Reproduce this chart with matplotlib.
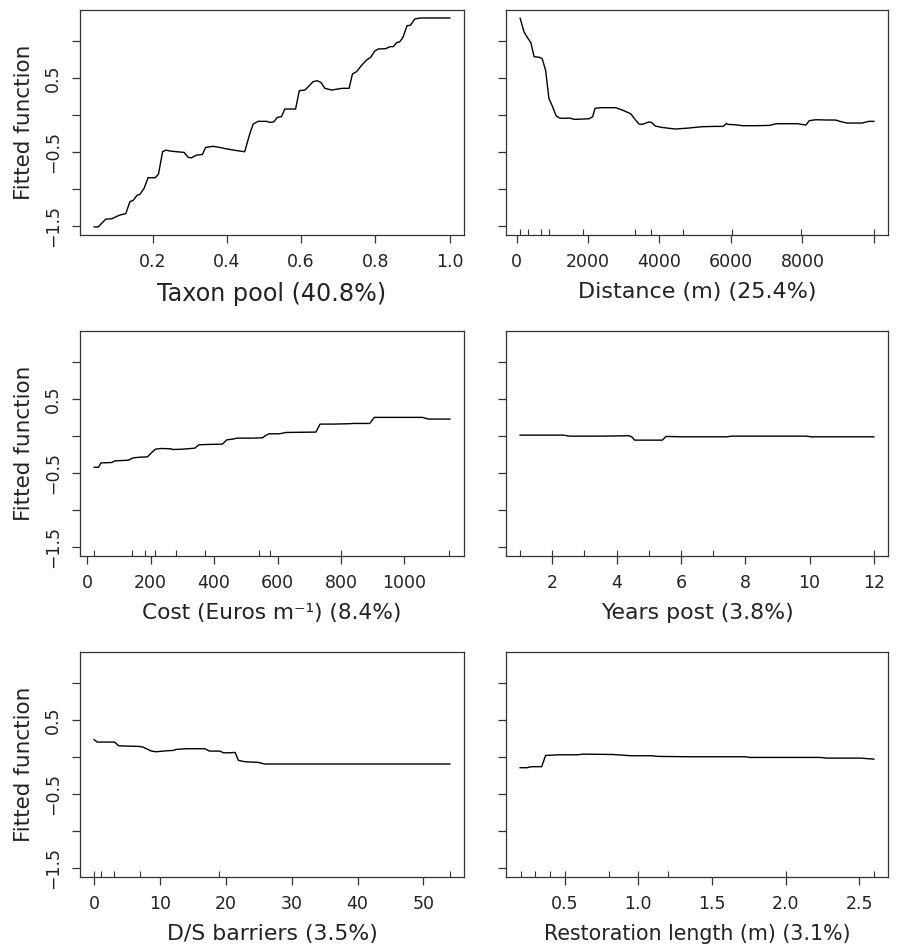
"""Partial dependence panels (gbm style) for six predictors."""

import matplotlib

matplotlib.use("Agg")
import matplotlib.pyplot as plt

# --- data ------------------------------------------------------------------
taxon_x = [0.043, 0.054, 0.074, 0.090, 0.112, 0.128, 0.139, 0.148, 0.159, 0.166,
           0.177, 0.188, 0.207, 0.216, 0.227, 0.236, 0.247, 0.265, 0.285, 0.296,
           0.305, 0.318, 0.334, 0.343, 0.363, 0.381, 0.392, 0.417, 0.435, 0.448,
           0.462, 0.471, 0.484, 0.507, 0.516, 0.526, 0.536, 0.547, 0.556, 0.585,
           0.595, 0.610, 0.621, 0.632, 0.643, 0.653, 0.664, 0.682, 0.704, 0.711,
           0.729, 0.738, 0.749, 0.762, 0.776, 0.787, 0.798, 0.807, 0.828, 0.839,
           0.848, 0.858, 0.865, 0.874, 0.885, 0.894, 0.906, 0.921, 1.000]
taxon_y = [-1.51, -1.51, -1.405, -1.40, -1.35, -1.33, -1.17, -1.15, -1.08, -1.07,
           -0.99, -0.845, -0.845, -0.796, -0.493, -0.471, -0.484, -0.493, -0.502, -0.57,
           -0.575, -0.54, -0.53, -0.435, -0.42, -0.435, -0.448, -0.47, -0.484, -0.493,
           -0.245, -0.118, -0.082, -0.082, -0.096, -0.09, -0.028, -0.019, 0.085, 0.085,
           0.333, 0.342, 0.396, 0.455, 0.468, 0.446, 0.365, 0.342, 0.36, 0.365,
           0.365, 0.559, 0.59, 0.672, 0.748, 0.784, 0.87, 0.897, 0.902, 0.929,
           0.929, 0.988, 0.992, 1.055, 1.213, 1.218, 1.304, 1.317, 1.317]
taxon_rug = []

dist_x = [100, 205, 300, 400, 490, 650, 720, 815, 905, 1000, 1110, 1205, 1340, 1480,
          1620, 1850, 2035, 2130, 2195, 2360, 2775, 2960, 3195, 3330, 3425, 3515, 3700,
          3775, 3885, 4070, 4440, 4810, 5180, 5550, 5785, 5875, 5920, 6105, 6340, 6660,
          7080, 7265, 7865, 8100, 8190, 8375, 8700, 8930, 9115, 9255, 9670, 9855, 10000]
dist_y = [1.313, 1.132, 1.055, 0.983, 0.793, 0.784, 0.762, 0.604, 0.229, 0.125, -0.01,
          -0.037, -0.042, -0.037, -0.055, -0.051, -0.046, -0.019, 0.094, 0.103, 0.103,
          0.071, 0.021, -0.064, -0.118, -0.123, -0.091, -0.096, -0.146, -0.164, -0.186,
          -0.173, -0.155, -0.15, -0.15, -0.11, -0.123, -0.128, -0.141, -0.141, -0.137,
          -0.114, -0.114, -0.132, -0.073, -0.06, -0.064, -0.064, -0.091, -0.105, -0.105,
          -0.082, -0.082]
dist_rug = [100, 330, 670, 910, 1850, 3320, 3760, 4650, 6040, 7960, 10000]

cost_x = [22, 36, 43, 77, 87, 129, 145, 166, 190, 202, 215, 234, 265, 270, 302, 339,
          352, 375, 426, 440, 459, 472, 522, 553, 564, 574, 606, 627, 721, 734, 774,
          826, 837, 891, 905, 983, 1057, 1076, 1143]
cost_y = [-0.419, -0.419, -0.36, -0.355, -0.333, -0.324, -0.292, -0.283, -0.278,
          -0.224, -0.174, -0.165, -0.17, -0.179, -0.174, -0.161, -0.115, -0.111,
          -0.106, -0.048, -0.038, -0.025, -0.025, -0.02, 0.016, 0.034, 0.034, 0.052,
          0.057, 0.165, 0.165, 0.17, 0.174, 0.174, 0.256, 0.256, 0.256, 0.233, 0.233]
cost_rug = [22, 142, 183, 214, 281, 370, 542, 577, 800, 1142]

years_x = [1.0, 2.33, 2.54, 3.46, 4.39, 4.47, 4.56, 5.42, 5.54, 6.04, 7.43, 7.58,
           9.9, 10.05, 12.0]
years_y = [0.016, 0.016, 0.002, 0.002, 0.007, -0.007, -0.052, -0.052, -0.002,
           -0.007, -0.007, 0.002, 0.002, -0.007, -0.007]
years_rug = [1, 2, 3, 4, 5, 6, 7, 12]

barr_x = [0, 0.46, 3.1, 3.7, 4.9, 6.9, 7.4, 8.7, 9.4, 11, 12, 12.5, 14, 16.8, 17.5,
          19.1, 19.6, 20.6, 21.4, 21.9, 22.9, 24.9, 25.9, 54]
barr_y = [0.238, 0.206, 0.206, 0.156, 0.152, 0.147, 0.138, 0.084, 0.075, 0.088,
          0.093, 0.107, 0.116, 0.116, 0.084, 0.084, 0.061, 0.061, 0.066, -0.042,
          -0.06, -0.069, -0.091, -0.091]
barr_rug = [0, 1, 3, 7, 19, 54]

rest_x = [0.197, 0.242, 0.275, 0.343, 0.37, 0.466, 0.59, 0.624, 0.826, 0.949, 1.095,
          1.129, 1.365, 1.725, 1.758, 2.24, 2.275, 2.51, 2.6]
rest_y = [-0.141, -0.141, -0.127, -0.127, 0.025, 0.034, 0.034, 0.043, 0.038, 0.021,
          0.021, 0.012, 0.007, 0.007, -0.002, -0.002, -0.011, -0.011, -0.025]
rest_rug = [0.2, 0.3, 0.4, 0.5, 0.8, 1.0, 1.2, 2.0, 2.6]

labels = ["Taxon pool (40.8%)", "Distance (m) (25.4%)", "Cost (Euros m⁻¹) (8.4%)",
          "Years post (3.8%)", "D/S barriers (3.5%)", "Restoration length (m) (3.1%)"]
xticks = [[0.2, 0.4, 0.6, 0.8, 1.0],
          [0, 2000, 4000, 6000, 8000, 10000],
          [0, 200, 400, 600, 800, 1000],
          [2, 4, 6, 8, 10, 12],
          [0, 10, 20, 30, 40, 50],
          [0.5, 1.0, 1.5, 2.0, 2.5]]
xticklabels = [["0.2", "0.4", "0.6", "0.8", "1.0"],
               ["0", "2000", "4000", "6000", "8000", ""],
               ["0", "200", "400", "600", "800", "1000"],
               ["2", "4", "6", "8", "10", "12"],
               ["0", "10", "20", "30", "40", "50"],
               ["0.5", "1.0", "1.5", "2.0", "2.5"]]
yticks = [-1.5, -1.0, -0.5, 0.0, 0.5, 1.0]
yticklabels = ["−1.5", "", "−0.5", "", "0.5", ""]

panels = [(taxon_x, taxon_y, taxon_rug), (dist_x, dist_y, dist_rug),
          (cost_x, cost_y, cost_rug), (years_x, years_y, years_rug),
          (barr_x, barr_y, barr_rug), (rest_x, rest_y, rest_rug)]

# label sizes tuned to the widths seen in the original
label_sizes = [17.2, 16, 15.6, 15.8, 15.8, 14.8]

W, H = 898, 949
fig = plt.figure(figsize=(W / 100, H / 100), dpi=100)
plt.rcParams["font.family"] = "DejaVu Sans"

col_left = [80, 506]
col_width = [384, 382]
row_top = [10, 331, 652]
row_h = 225
frame = "#333333"
text_c = "#222222"

for i, (xs, ys, rug) in enumerate(panels):
    r, c = divmod(i, 2)
    ax = fig.add_axes([col_left[c] / W, (H - row_top[r] - row_h) / H,
                       col_width[c] / W, row_h / H])
    ax.plot(xs, ys, color="black", lw=1.0)

    # 4% padding like base R graphics
    lo, hi = min(xs), max(xs)
    pad = 0.04 * (hi - lo)
    ax.set_xlim(lo - pad, hi + pad)
    ax.set_ylim(-1.62, 1.425)

    ax.set_xticks(xticks[i])
    ax.set_xticklabels(xticklabels[i], fontsize=12.5, color=text_c)
    ax.set_yticks(yticks)
    if c == 0:
        ax.set_yticklabels(yticklabels, rotation=90, va="center", fontsize=12.5,
                           color=text_c)
        ax.set_ylabel("Fitted function", fontsize=15.5, color=text_c, labelpad=7)
    else:
        ax.set_yticklabels([])
    ax.set_xlabel(labels[i], fontsize=label_sizes[i], color=text_c, labelpad=8)

    # rug of deciles as inward minor ticks
    ax.xaxis.remove_overlapping_locs = False
    ax.set_xticks(rug, minor=True)
    ax.tick_params(axis="both", which="major", direction="out", length=6,
                   width=0.9, color=frame, pad=7)
    ax.tick_params(axis="x", which="minor", direction="in", length=4.5,
                   width=0.8, color=frame)
    for s in ax.spines.values():
        s.set_color(frame)
        s.set_linewidth(0.9)

fig.savefig("out.png", dpi=100)
